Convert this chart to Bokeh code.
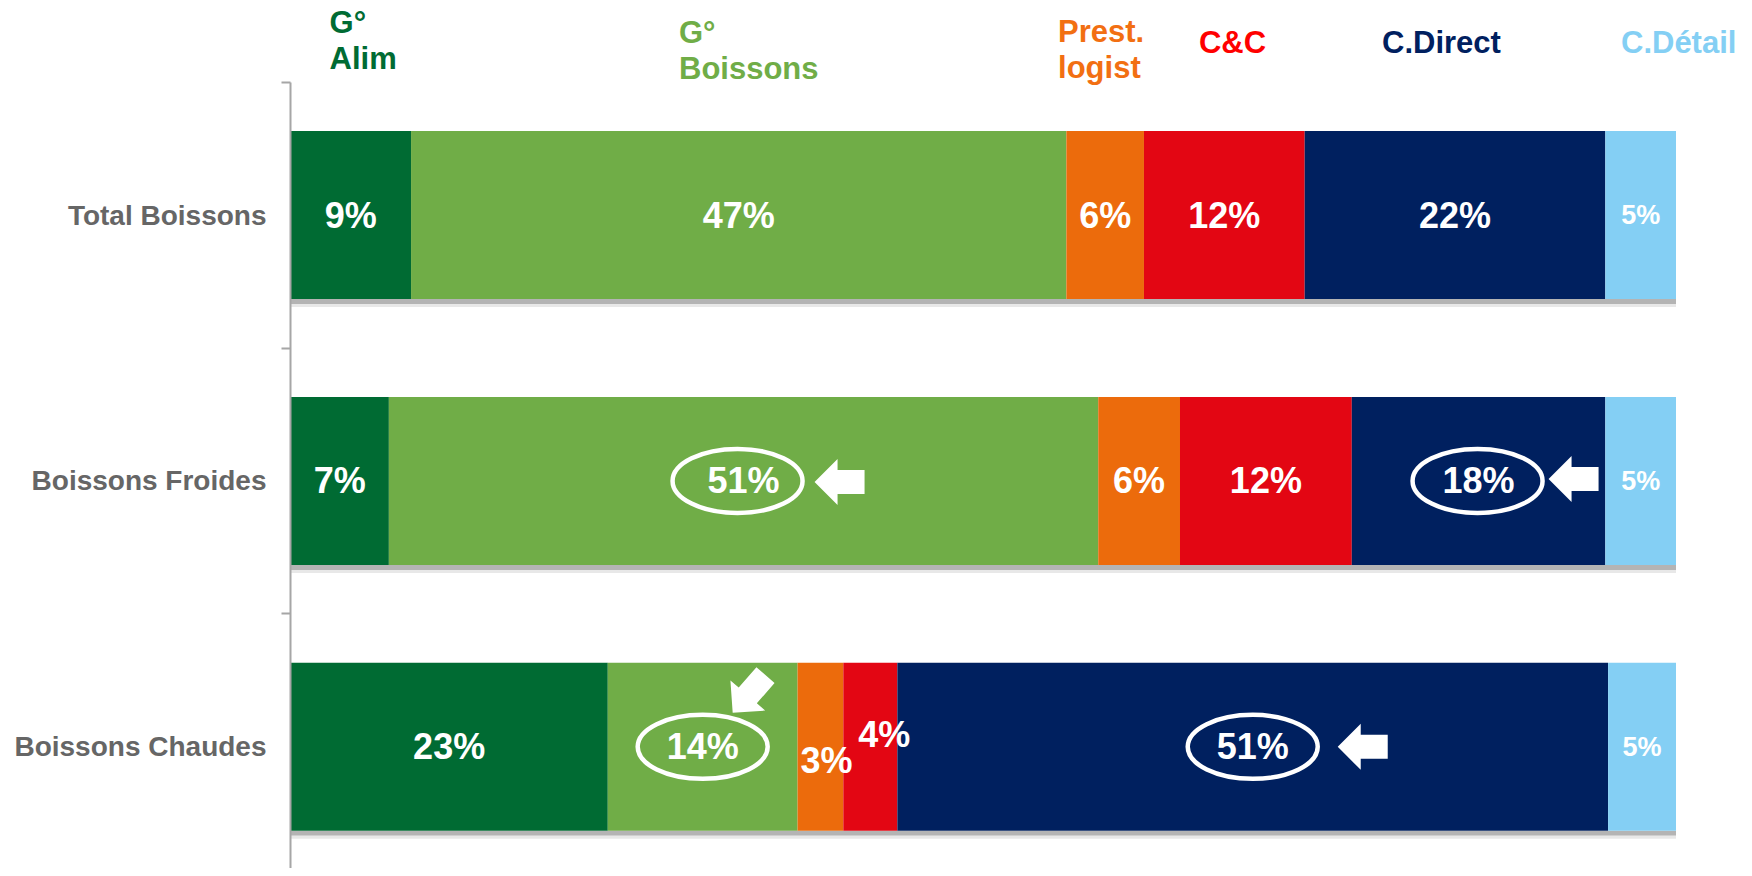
import math
import numpy as np
from bokeh.plotting import figure
from bokeh.models import ColumnDataSource, Range1d, FixedTicker
from bokeh.core.properties import value
from bokeh.embed import file_html
from bokeh.resources import INLINE

# ---------------- data ----------------
categories = ["Total Boissons", "Boissons Froides", "Boissons Chaudes"]
channels = ["G°\nAlim", "G°\nBoissons", "Prest.\nlogist", "C&C", "C.Direct", "C.Détail"]
total_boissons = [8.7, 47.3, 5.6, 11.6, 21.7, 5.1]
boissons_froides = [7.1, 51.2, 5.9, 12.4, 18.3, 5.1]
boissons_chaudes = [22.9, 13.7, 3.3, 3.9, 51.3, 4.9]
rows = [total_boissons, boissons_froides, boissons_chaudes]

# highlighted cells (row index, channel index)
highlight_rows = [1, 1, 2, 2]
highlight_channels = [1, 4, 1, 4]

# ---------------- style ----------------
bar_colors = ["#006B33", "#70AD47", "#EC6B0C", "#E30613", "#00205F", "#84CFF4"]
header_colors = ["#006B33", "#70AD47", "#F26F12", "#FF0000", "#00205F", "#84CFF4"]
FONT = value("Liberation Sans")

FIG_W, FIG_H = 1744, 868
LEFT = 290              # frame left border (px)
PX_X = 13.855           # px per percent
PX_Y = 265.9            # px per category band
Y0 = 81.6               # px from figure top to y=0
BAR_H = 168 / PX_Y

x_end = (FIG_W - LEFT) / PX_X
y_top = -Y0 / PX_Y
y_bot = (FIG_H - Y0) / PX_Y

p = figure(width=FIG_W, height=FIG_H, output_backend="svg", toolbar_location=None,
           x_range=Range1d(0, x_end), y_range=Range1d(y_bot, y_top),
           x_axis_location=None, min_border_left=LEFT, min_border_right=0,
           min_border_top=0, min_border_bottom=0)
p.outline_line_color = None
p.xgrid.grid_line_color = None
p.ygrid.grid_line_color = None
p.background_fill_color = "white"
p.border_fill_color = "white"

# ---------------- bars ----------------
seg = dict(left=[], right=[], y=[], color=[], cx=[], text=[], fs=[], xo=[], yo=[])
for r, vals in enumerate(rows):
    cum = np.concatenate([[0], np.cumsum(vals)])
    for c, v in enumerate(vals):
        seg["left"].append(cum[c]); seg["right"].append(cum[c + 1])
        seg["y"].append(r + 0.5); seg["color"].append(bar_colors[c])
        seg["cx"].append((cum[c] + cum[c + 1]) / 2)
        seg["text"].append(f"{round(v)}%")
        seg["fs"].append("27px" if c == len(vals) - 1 else "36px")
        seg["xo"].append(0); seg["yo"].append(0)

# small segments of the last row: labels moved apart
idx3 = 2 * 6 + 2
idx4 = 2 * 6 + 3
seg["xo"][idx3], seg["yo"][idx3] = 6, 14
seg["xo"][idx4], seg["yo"][idx4] = 14, -12

src = ColumnDataSource(seg)

# shadow below bars
totals = [sum(v) for v in rows]
ys = [r + 0.5 for r in range(len(rows))]
p.hbar(y=[y + BAR_H / 2 + 2.5 / PX_Y for y in ys], left=0, right=totals,
       height=5 / PX_Y, fill_color="#B4B4B4", line_color=None)
p.hbar(y=[y + BAR_H / 2 + 6.5 / PX_Y for y in ys], left=0, right=totals,
       height=3 / PX_Y, fill_color="#E8E8E8", line_color=None)

p.hbar(y="y", left="left", right="right", height=BAR_H, fill_color="color",
       line_color=None, source=src)

p.text(x="cx", y="y", text="text", x_offset="xo", y_offset="yo", source=src,
       text_font=FONT, text_font_style="bold", text_font_size="fs",
       text_color="white", text_align="center", text_baseline="middle")

# ---------------- highlights ----------------
ellipse_dx = [-6, -1, 0, 0]                            # px from label centre
arrow_tip = [(71, 1), (70, -2), (30, -34), (85, 0)]    # px from label centre
arrow_angle = [0, 0, -49, 0]                           # tail direction (deg)
arrow_shape = [(0, 0), (23, -23), (23, -12), (50, -12), (50, 12), (23, 12), (23, 23)]

ex, ey, axs, ays = [], [], [], []
for r, c, edx, (tx, ty), ang in zip(highlight_rows, highlight_channels, ellipse_dx,
                                    arrow_tip, arrow_angle):
    i = r * 6 + c
    cx, cy = seg["cx"][i], seg["y"][i]
    ex.append(cx + edx / PX_X); ey.append(cy)
    t = math.radians(ang)
    px_, py_ = [], []
    for u, v in arrow_shape:
        sx = tx + u * math.cos(t) - v * math.sin(t)
        sy = ty + u * math.sin(t) + v * math.cos(t)
        px_.append(cx + sx / PX_X)
        py_.append(cy + sy / PX_Y)
    axs.append(px_); ays.append(py_)

p.ellipse(x=ex, y=ey, width=130, height=64, width_units="screen", height_units="screen",
          fill_color=None, line_color="white", line_width=4.5)
p.patches(xs=axs, ys=ays, fill_color="white", line_color=None)

# ---------------- headers ----------------
header_x = [2.82, 28.04, 55.4, 65.57, 78.78, 96.03]
header_base_px = [21.5, 31.6, 30.5, 41.5, 41.5, 41.5]
LINE_PX = 36.5
hx, hy, ht, hc = [], [], [], []
for name, x0, b, col in zip(channels, header_x, header_base_px, header_colors):
    for k, line in enumerate(name.split("\n")):
        hx.append(x0); hy.append((b + k * LINE_PX - Y0) / PX_Y)
        ht.append(line); hc.append(col)
p.text(x=hx, y=hy, text=ht, text_color=hc, text_font=FONT, text_font_style="bold",
       text_font_size="31px", text_align="left", text_baseline="alphabetic")

# ---------------- y axis ----------------
yax = p.yaxis[0]
yax.ticker = FixedTicker(ticks=[r + 0.5 for r in range(len(categories))],
                         minor_ticks=list(range(len(categories) + 1)))
yax.major_label_overrides = {r + 0.5: name for r, name in enumerate(categories)}
yax.bounds = (0, y_bot)
yax.axis_line_color = "#A6A6A6"
yax.axis_line_width = 2
yax.major_tick_line_color = None
yax.major_tick_out = 0
yax.major_tick_in = 0
yax.minor_tick_line_color = "#A6A6A6"
yax.minor_tick_line_width = 2
yax.minor_tick_out = 9
yax.minor_tick_in = 0
yax.major_label_standoff = 15
yax.major_label_text_font = "Liberation Sans"
yax.major_label_text_font_style = "bold"
yax.major_label_text_font_size = "28px"
yax.major_label_text_color = "#666666"

open("out.html", "w").write(file_html(p, INLINE))
